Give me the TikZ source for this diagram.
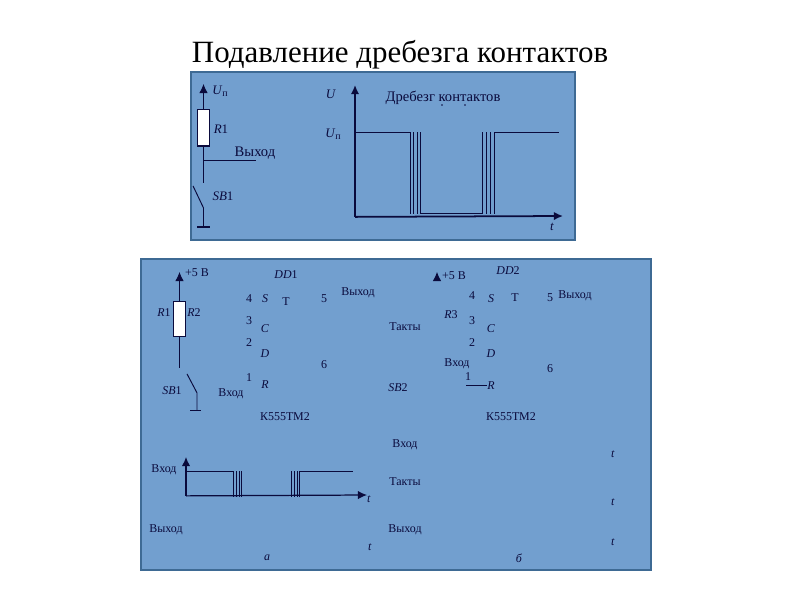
\documentclass[tikz,border=0pt]{standalone}
\usepackage{fontspec}
\setmainfont{Liberation Serif}
\usetikzlibrary{arrows.meta}
\definecolor{panelblue}{HTML}{729FCF}
\definecolor{panelline}{HTML}{3E6A94}
\definecolor{inkblue}{HTML}{0A0A3C}
\newcommand{\Upow}{\textit{U}\raisebox{-0.6pt}{\fontsize{2.8}{3}\selectfont п}}

\begin{document}
\begin{tikzpicture}[x=0.01cm,y=-0.01cm]
\tikzstyle{panel}=[fill=panelblue,draw=panelline,line width=0.3pt]
\tikzstyle{every node}=[inner sep=0pt,text=inkblue,yshift=-0.25pt,font=\fontsize{3.4}{4}\selectfont]
\tikzstyle{big}=[font=\fontsize{3.7}{4.5}\selectfont]
\tikzstyle{wide}=[font=\fontsize{4.15}{4.5}\selectfont]
\tikzstyle{wire}=[draw=inkblue,line width=0.27pt]
\tikzstyle{axis}=[draw=inkblue,line width=0.5pt,-{Latex[length=2.6pt,width=2.4pt]}]
\tikzstyle{resistor}=[draw=inkblue,fill=white,line width=0.3pt,minimum width=3.6pt,minimum height=10.3pt]
\useasboundingbox (0,0) rectangle (800,600);
\node[font=\fontsize{8.8}{10}\selectfont,text=black] (title) at (400,54) {Подавление дребезга контактов};
\draw[panel] (191,72) rectangle (575,240);
\draw[panel] (141,259) rectangle (651,570);

\node[resistor] (r1) at (203.5,127) {};
\coordinate (vcc1) at (203.5,83);
\coordinate (tap1) at (203.5,160);
\coordinate (out1) at (256,160);
\coordinate (sw1) at (203.5,182);
\coordinate (sw1a) at (193,185);
\coordinate (sw1b) at (203.5,207);
\coordinate (gnd1) at (203.5,226);
\coordinate (gnd1l) at (197,226);
\coordinate (gnd1r) at (210,226);
\draw[axis,line width=0.3pt] (r1.north) -- (vcc1);
\draw[wire] (r1.south) -- (sw1);
\draw[wire] (tap1) -- (out1);
\draw[wire] (sw1a) -- (sw1b) -- (gnd1);
\draw[wire,line width=0.5pt] (gnd1l) -- (gnd1r);
\node[big] (u1) at (220,90) {\Upow};
\node[big] (r1t) at (221,128) {\textit{R}1};
\node[wide] (out1t) at (255,152) {Выход};
\node[big] (sb1t) at (223,195) {\textit{SB}1};

\coordinate (o1) at (355,216);
\draw[axis] (o1) -- (355,85);
\draw[axis] (o1) -- (563,216);
\draw[wire] (356,132) -- (410,132);
\foreach \x in {410,413.5,417,420.5}
  \draw[wire] (\x,132) -- (\x,214);
\draw[wire] (420.5,213) -- (482,213);
\foreach \x in {482,486,490,494}
  \draw[wire] (\x,132) -- (\x,214);
\draw[wire] (494,132) -- (559,132);
\node[big] (ut) at (331,93) {\textit{U}};
\node[big] (u2) at (333,133) {\Upow};
\node[big] (tt) at (552,226) {\textit{t}};
\node[wide] (bounce) at (443,97) {Дребезг контактов};
\fill[inkblue] (442,105) circle (0.25pt) (465,105) circle (0.25pt);

\node[resistor,minimum height=10pt] (r2) at (179.5,318) {};
\coordinate (vcc2) at (179.5,271);
\coordinate (sw2) at (179.5,367);
\coordinate (sw2a) at (187,373);
\coordinate (sw2b) at (197,392);
\coordinate (gnd2) at (197,410);
\coordinate (gnd2l) at (190,410);
\coordinate (gnd2r) at (201,410);
\draw[axis,line width=0.3pt] (r2.north) -- (vcc2);
\draw[wire] (r2.south) -- (sw2);
\draw[wire] (sw2a) -- (sw2b) -- (gnd2);
\draw[wire] (gnd2l) -- (gnd2r);
\node (v5a) at (197,272) {+5 В};
\node (r1a) at (164,312) {\textit{R}1};
\node (r2a) at (194,312) {\textit{R}2};
\node (sb1a) at (172,390) {\textit{SB}1};
\node (ina) at (231,393) {Вход};
\node (dd1) at (286,274) {\textit{DD}1};
\node (p4a) at (249,298) {4};
\node (sa) at (265,298) {\textit{S}};
\node (ta) at (286,301) {Т};
\node (p5a) at (324,298) {5};
\node (outa) at (358,292) {Выход};
\node (p3a) at (249,320) {3};
\node (ca) at (265,328) {\textit{C}};
\node (p2a) at (249,342) {2};
\node (da) at (265,353) {\textit{D}};
\node (p1a) at (249,377) {1};
\node (ra) at (265,384) {\textit{R}};
\node (p6a) at (324,364) {6};
\node (chipa) at (285,416) {К555ТМ2};

\coordinate (vcc3) at (437,271);
\coordinate (vcc3b) at (437,277);
\draw[axis,line width=0.3pt] (vcc3b) -- (vcc3);
\node (v5b) at (454,275) {+5 В};
\node (dd2) at (508,270) {\textit{DD}2};
\node (p4b) at (472,295) {4};
\node (sb) at (491,298) {\textit{S}};
\node (tb) at (515,297) {Т};
\node (p5b) at (550,297) {5};
\node (outb) at (575,295) {Выход};
\node (r3b) at (451,314) {\textit{R}3};
\node (p3b) at (472,320) {3};
\node (cb) at (491,328) {\textit{C}};
\node (clkb) at (405,326) {Такты};
\node (p2b) at (472,342) {2};
\node (db) at (491,353) {\textit{D}};
\node (inb) at (457,363) {Вход};
\node (p1b) at (468,376) {1};
\node (rb) at (491,385) {\textit{R}};
\coordinate (rpin) at (466,385);
\draw[wire] (rpin) -- (rb.west);
\node (p6b) at (550,368) {6};
\node (sb2) at (398,387) {\textit{SB}2};
\node (chipb) at (511,416) {К555ТМ2};

\coordinate (o2) at (186,495);
\draw[axis,line width=0.35pt] (o2) -- (186,457);
\draw[axis,line width=0.35pt] (o2) -- (367,495);
\draw[wire] (186,471) -- (233,471);
\foreach \x in {233,236,239,241}
  \draw[wire] (\x,471) -- (\x,497);
\foreach \x in {291,294,297,299.5}
  \draw[wire] (\x,471) -- (\x,497);
\draw[wire] (299.5,471) -- (353,471);
\node (ingr) at (164,469) {Вход};
\node (t1) at (369,498) {\textit{t}};
\node (outgr) at (166,529) {Выход};
\node (t2) at (370,546) {\textit{t}};
\node (capa) at (267,557) {\textit{а}};

\node (ingrb) at (405,444) {Вход};
\node (t3) at (613,453) {\textit{t}};
\node (clkgr) at (405,481) {Такты};
\node (t4) at (613,501) {\textit{t}};
\node (outgrb) at (405,529) {Выход};
\node (t5) at (613,541) {\textit{t}};
\node (capb) at (519,557) {\textit{б}};
\end{tikzpicture}
\end{document}
